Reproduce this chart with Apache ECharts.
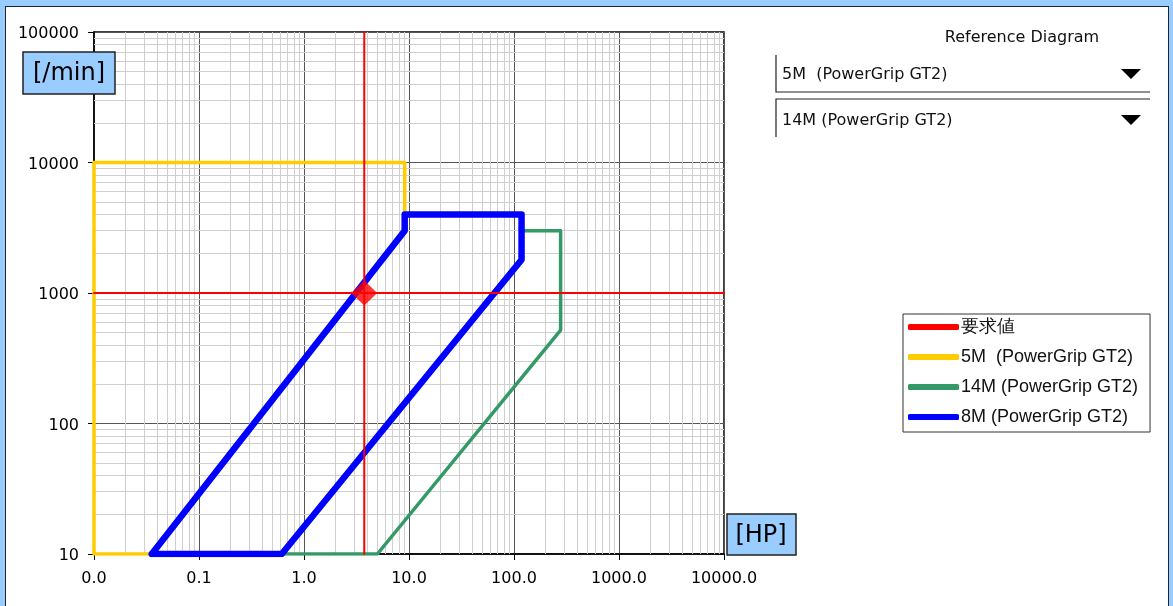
<!DOCTYPE html>
<html>
<head>
<meta charset="utf-8">
<script src="https://cdn.jsdelivr.net/npm/echarts@6/dist/echarts.min.js"></script>
<style>
html,body{margin:0;padding:0;width:1173px;height:606px;overflow:hidden;background:#99CCFF;}
#panel{position:absolute;left:5px;top:6px;width:1164px;height:640px;background:#fff;border:1px solid #1c2430;box-sizing:border-box;}
#chart{position:absolute;left:0;top:0;width:1173px;height:606px;}
</style>
</head>
<body>
<div id="panel"></div>
<div id="chart"></div>
<script>
// ---- data ----
const xMin = 0.01, xMax = 10000;      // HP
const yMin = 10, yMax = 100000;       // /min
const xDecades = [0.01, 0.1, 1, 10, 100, 1000];
const yDecades = [10, 100, 1000, 10000];
const minorMult = [2, 3, 4, 5, 6, 7, 8, 9];

const reqHP = 3.75;
const reqRPM = 1000;

const gt5M_hp  = [0.01, 0.01, 9.1, 9.1, 0.0355, 0.01];
const gt5M_rpm = [10, 10000, 10000, 3000, 10, 10];

const gt14M_hp  = [0.614, 5.0, 278, 278, 118, 118, 0.614];
const gt14M_rpm = [10, 10, 520, 3000, 3000, 1800, 10];

const gt8M_hp  = [0.0355, 9.1, 9.1, 118, 118, 0.614, 0.0355];
const gt8M_rpm = [10, 3000, 4000, 4000, 1800, 10, 10];

const names = ['要求値', '5M  (PowerGrip GT2)', '14M (PowerGrip GT2)', '8M (PowerGrip GT2)'];
const colors = ['#FF0000', '#FFCC00', '#339966', '#0000FF'];

// ---- build ----
const zip = (a, b) => a.map((v, i) => [v, b[i]]);
const minorLines = [];
xDecades.forEach(d => minorMult.forEach(m => minorLines.push({coords: [[d * m, yMin], [d * m, yMax]]})));
yDecades.forEach(d => minorMult.forEach(m => minorLines.push({coords: [[xMin, d * m], [xMax, d * m]]})));

const FONT = 'DejaVu Sans';
const chart = echarts.init(document.getElementById('chart'));
const lineSeries = (name, data, color, width, z) => ({
  name, type: 'line', data, showSymbol: false, z, silent: true,
  itemStyle: {color},
  lineStyle: {color, width, join: 'round', cap: 'round'},
  animation: false
});

chart.setOption({
  backgroundColor: 'transparent',
  animation: false,
  textStyle: {fontFamily: FONT},
  grid: {left: 94, top: 32, right: 449, bottom: 52, show: true, borderColor: '#000', borderWidth: 1.5, backgroundColor: 'transparent', containLabel: false, outerBoundsMode: 'none'},
  xAxis: {
    type: 'log', logBase: 10, min: xMin, max: xMax,
    axisLine: {show: true, lineStyle: {color: '#000', width: 1.5}},
    axisTick: {show: true, length: 6, lineStyle: {color: '#000'}},
    axisLabel: {color: '#000', fontSize: 16, fontFamily: FONT, margin: 17, formatter: v => Number(v).toFixed(1)},
    splitLine: {show: true, lineStyle: {color: '#555', width: 1}},
    minorTick: {show: false}, minorSplitLine: {show: false}
  },
  yAxis: {
    type: 'log', logBase: 10, min: yMin, max: yMax,
    axisLine: {show: true, lineStyle: {color: '#000', width: 1.5}},
    axisTick: {show: true, length: 6, lineStyle: {color: '#000'}},
    axisLabel: {color: '#000', fontSize: 16, fontFamily: FONT, margin: 15,
      formatter: v => '{a|' + Math.round(v) + '}',
      rich: {a: {fontSize: 16, fontFamily: FONT, color: '#000', padding: [4, 0, 0, 0]}}},
    splitLine: {show: true, lineStyle: {color: '#555', width: 1}},
    minorTick: {show: false}, minorSplitLine: {show: false}
  },
  legend: {
    orient: 'vertical', left: 903, top: 314,
    data: names,
    icon: 'roundRect', itemWidth: 51, itemHeight: 6, itemGap: 12,
    padding: [4, 12, 6, 5],
    borderColor: '#333', borderWidth: 1, backgroundColor: '#fff',
    textStyle: {fontFamily: 'Liberation Sans', fontSize: 18, color: '#111', lineHeight: 18, padding: [0, 0, 0, -3]},
    selectedMode: false
  },
  series: [
    {type: 'lines', coordinateSystem: 'cartesian2d', data: minorLines, silent: true, z: 1,
     lineStyle: {color: '#cfcfcf', width: 1, opacity: 1}, animation: false},
    lineSeries(names[1], zip(gt5M_hp, gt5M_rpm), colors[1], 3.5, 3),
    lineSeries(names[2], zip(gt14M_hp, gt14M_rpm), colors[2], 3.5, 4),
    lineSeries(names[3], zip(gt8M_hp, gt8M_rpm), colors[3], 6.5, 5),
    lineSeries(names[0], [[xMin, reqRPM], [xMax, reqRPM]], colors[0], 2, 6),
    lineSeries(names[0], [[reqHP, yMin], [reqHP, yMax]], colors[0], 2, 6),
    {name: names[0], type: 'scatter', data: [[reqHP, reqRPM]], symbol: 'diamond', symbolSize: [26, 25], z: 7,
     itemStyle: {color: colors[0]}, silent: true, animation: false}
  ],
  graphic: [
    {type: 'rect', shape: {x: 23, y: 52, width: 92, height: 42}, style: {fill: '#99CCFF', stroke: '#222', lineWidth: 1.5}, z: 100},
    {type: 'text', x: 69, y: 74, style: {text: '[/min]', font: '24px "DejaVu Sans"', fill: '#000', align: 'center', verticalAlign: 'middle'}, z: 101},
    {type: 'rect', shape: {x: 727, y: 514, width: 69, height: 41}, style: {fill: '#99CCFF', stroke: '#222', lineWidth: 1.5}, z: 100},
    {type: 'text', x: 761, y: 536, style: {text: '[HP]', font: '24px "DejaVu Sans"', fill: '#000', align: 'center', verticalAlign: 'middle'}, z: 101},
    {type: 'text', x: 1022, y: 38, style: {text: 'Reference Diagram', font: '16px "DejaVu Sans"', fill: '#111', align: 'center', verticalAlign: 'middle'}, z: 100},
    {type: 'polyline', shape: {points: [[776, 55], [776, 92], [1150, 92]]}, style: {stroke: '#222', lineWidth: 1.2, fill: null}, z: 100},
    {type: 'text', x: 782, y: 75, style: {text: '5M  (PowerGrip GT2)', font: '16px "DejaVu Sans"', fill: '#111', align: 'left', verticalAlign: 'middle'}, z: 100},
    {type: 'polygon', shape: {points: [[1121, 69], [1141, 69], [1131, 79]]}, style: {fill: '#000'}, z: 100},
    {type: 'polyline', shape: {points: [[1150, 99], [776, 99], [776, 137]]}, style: {stroke: '#222', lineWidth: 1.2, fill: null}, z: 100},
    {type: 'text', x: 782, y: 121, style: {text: '14M (PowerGrip GT2)', font: '16px "DejaVu Sans"', fill: '#111', align: 'left', verticalAlign: 'middle'}, z: 100},
    {type: 'polygon', shape: {points: [[1121, 115], [1141, 115], [1131, 125]]}, style: {fill: '#000'}, z: 100}
  ]
});
</script>
</body>
</html>
